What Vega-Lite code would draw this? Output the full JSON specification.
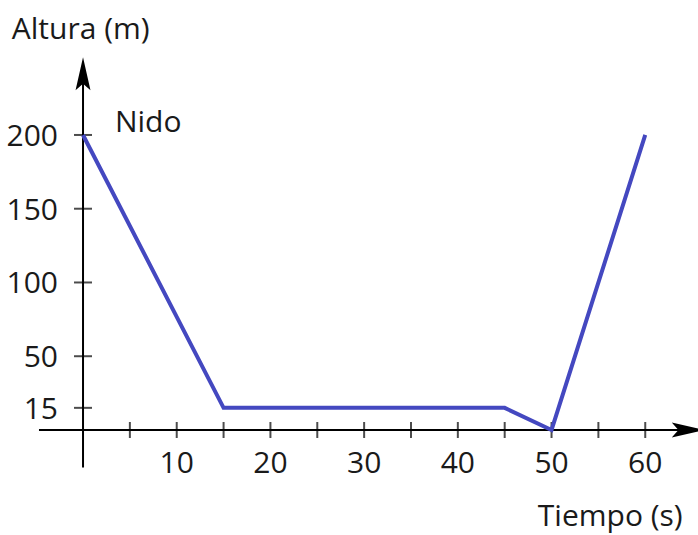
{
  "$schema": "https://vega.github.io/schema/vega-lite/v6.json",
  "width": 698,
  "height": 535,
  "autosize": {"type": "none"},
  "padding": 0,
  "background": "white",
  "config": {"view": {"stroke": null}, "text": {"font": "Open Sans"}},
  "datasets": {
    "linea": [
      {"t": 0, "h": 200},
      {"t": 15, "h": 15},
      {"t": 45, "h": 15},
      {"t": 50, "h": 0},
      {"t": 60, "h": 200}
    ],
    "xticks": [
      {"t": 5}, {"t": 10}, {"t": 15}, {"t": 20}, {"t": 25}, {"t": 30},
      {"t": 35}, {"t": 40}, {"t": 45}, {"t": 50}, {"t": 55}, {"t": 60}
    ],
    "xlabels": [
      {"t": 10, "lab": "10"}, {"t": 20, "lab": "20"}, {"t": 30, "lab": "30"},
      {"t": 40, "lab": "40"}, {"t": 50, "lab": "50"}, {"t": 60, "lab": "60"}
    ],
    "yticks": [
      {"h": 15, "lab": "15"}, {"h": 50, "lab": "50"}, {"h": 100, "lab": "100"},
      {"h": 150, "lab": "150"}, {"h": 200, "lab": "200"}
    ],
    "textosIzq": [
      {"t": -7.6, "h": 271, "lab": "Altura (m)"},
      {"t": 3.4, "h": 208, "lab": "Nido"}
    ],
    "textosDer": [
      {"t": 64.0, "h": -59, "lab": "Tiempo (s)"}
    ]
  },
  "layer": [
    {
      "data": {"values": [{"a": -4.7, "b": 64.0, "z": 0}]},
      "mark": {"type": "rule", "color": "black", "strokeWidth": 2},
      "encoding": {
        "x": {"field": "a", "type": "quantitative", "scale": {"domain": [-8.86, 65.63], "nice": false, "zero": false}, "axis": null},
        "x2": {"field": "b"},
        "y": {"field": "z", "type": "quantitative", "scale": {"domain": [-71.2, 291.5], "nice": false, "zero": false}, "axis": null}
      }
    },
    {
      "data": {"values": [{"z": 0, "a": -25.5, "b": 236}]},
      "mark": {"type": "rule", "color": "black", "strokeWidth": 2},
      "encoding": {
        "x": {"field": "z", "type": "quantitative"},
        "y": {"field": "a", "type": "quantitative"},
        "y2": {"field": "b"}
      }
    },
    {
      "data": {"values": [{"t": 64.6, "h": 0}]},
      "mark": {"type": "point", "shape": "M-1,-0.45L1,0L-1,0.45L-0.6,0Z", "filled": true, "color": "black", "opacity": 1, "size": 1100},
      "encoding": {
        "x": {"field": "t", "type": "quantitative"},
        "y": {"field": "h", "type": "quantitative"}
      }
    },
    {
      "data": {"values": [{"t": 0, "h": 241.5}]},
      "mark": {"type": "point", "shape": "M-0.45,1L0,-1L0.45,1L0,0.6Z", "filled": true, "color": "black", "opacity": 1, "size": 1100},
      "encoding": {
        "x": {"field": "t", "type": "quantitative"},
        "y": {"field": "h", "type": "quantitative"}
      }
    },
    {
      "data": {"name": "xticks"},
      "mark": {"type": "tick", "orient": "vertical", "color": "black", "thickness": 2, "size": 16},
      "encoding": {
        "x": {"field": "t", "type": "quantitative"},
        "y": {"datum": 0, "type": "quantitative"}
      }
    },
    {
      "data": {"name": "yticks"},
      "mark": {"type": "tick", "orient": "horizontal", "color": "black", "thickness": 2, "size": 18},
      "encoding": {
        "x": {"datum": 0, "type": "quantitative"},
        "y": {"field": "h", "type": "quantitative"}
      }
    },
    {
      "data": {"name": "linea"},
      "mark": {"type": "line", "color": "#4448c0", "strokeWidth": 4},
      "encoding": {
        "x": {"field": "t", "type": "quantitative"},
        "y": {"field": "h", "type": "quantitative"}
      }
    },
    {
      "data": {"name": "xlabels"},
      "mark": {"type": "text", "fontSize": 30, "color": "#1a1a1a", "baseline": "middle", "align": "center", "dy": 34},
      "encoding": {
        "x": {"field": "t", "type": "quantitative"},
        "y": {"datum": 0, "type": "quantitative"},
        "text": {"field": "lab"}
      }
    },
    {
      "data": {"name": "yticks"},
      "mark": {"type": "text", "fontSize": 30, "color": "#1a1a1a", "baseline": "middle", "align": "right", "dx": -25, "dy": 2},
      "encoding": {
        "x": {"datum": 0, "type": "quantitative"},
        "y": {"field": "h", "type": "quantitative"},
        "text": {"field": "lab"}
      }
    },
    {
      "data": {"name": "textosIzq"},
      "mark": {"type": "text", "fontSize": 30, "color": "#1a1a1a", "baseline": "middle", "align": "left"},
      "encoding": {
        "x": {"field": "t", "type": "quantitative"},
        "y": {"field": "h", "type": "quantitative"},
        "text": {"field": "lab"}
      }
    },
    {
      "data": {"name": "textosDer"},
      "mark": {"type": "text", "fontSize": 30, "color": "#1a1a1a", "baseline": "middle", "align": "right"},
      "encoding": {
        "x": {"field": "t", "type": "quantitative"},
        "y": {"field": "h", "type": "quantitative"},
        "text": {"field": "lab"}
      }
    }
  ]
}
